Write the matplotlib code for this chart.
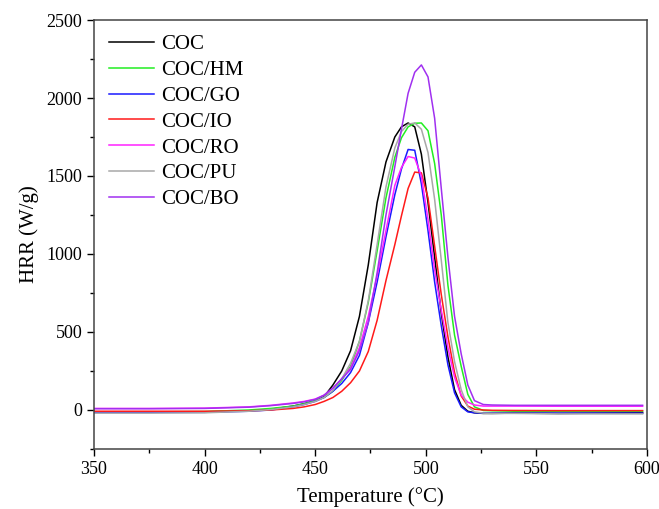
import matplotlib
matplotlib.use('Agg')
import matplotlib.pyplot as plt
from matplotlib.ticker import MultipleLocator

plt.rcParams['font.family'] = ['Liberation Serif', 'DejaVu Serif']

# temperature grid (°C)
temp = [350, 375, 400, 420, 430, 440, 445, 450, 454, 458, 462, 466, 470, 474, 478, 482,
        486, 489, 492, 495, 498, 501, 504, 507, 510, 513, 516, 519, 522, 526, 530, 540,
        560, 580, 598]

# heat release rate (W/g)
coc = [-15, -15, -12, -5, 5, 25, 40, 60, 85, 160, 250, 380, 600, 930, 1330, 1590,
       1750, 1815, 1840, 1815, 1640, 1330, 980, 620, 340, 130, 30, -8, -18, -22, -22, -20,
       -22, -20, -18]
coc_hm = [-12, -12, -10, 0, 10, 25, 40, 60, 80, 120, 190, 280, 440, 690, 1020, 1360,
          1620, 1745, 1815, 1838, 1840, 1790, 1580, 1250, 800, 480, 280, 100, 20, -3, -5, -8,
          -8, -8, -8]
coc_go = [-15, -15, -15, -8, 0, 20, 35, 55, 80, 120, 170, 240, 350, 560, 820, 1110,
          1380, 1545, 1670, 1665, 1450, 1150, 820, 540, 290, 110, 20, -12, -18, -20, -20, -20,
          -20, -20, -20]
coc_io = [-8, -8, -8, -5, 0, 10, 20, 35, 55, 80, 120, 175, 250, 375, 575, 830,
          1060, 1245, 1420, 1525, 1520, 1360, 1050, 740, 470, 240, 90, 25, 5, 0, -2, -3,
          -4, -4, -4]
coc_ro = [10, 10, 12, 20, 30, 45, 55, 70, 95, 140, 200, 270, 400, 600, 860, 1150,
          1440, 1555, 1625, 1615, 1500, 1220, 900, 640, 400, 210, 95, 50, 32, 25, 25, 25,
          24, 24, 24]
coc_pu = [-20, -20, -18, -8, 3, 20, 35, 55, 80, 125, 200, 300, 440, 700, 1060, 1430,
          1680, 1785, 1832, 1840, 1800, 1650, 1350, 960, 560, 310, 130, 20, -12, -20, -22, -22,
          -25, -25, -25]
coc_bo = [8, 8, 10, 18, 28, 42, 52, 68, 95, 140, 200, 260, 380, 560, 880, 1250,
          1560, 1800, 2030, 2165, 2212, 2135, 1870, 1420, 980, 600, 360, 160, 60, 35, 32, 30,
          30, 30, 30]

labels = ['COC', 'COC/HM', 'COC/GO', 'COC/IO', 'COC/RO', 'COC/PU', 'COC/BO']
colors = ['#000000', '#22ee22', '#1a1aff', '#ff1a1a', '#ff22ff', '#a8a8a8', '#a030f0']
series = [coc, coc_hm, coc_go, coc_io, coc_ro, coc_pu, coc_bo]

fig = plt.figure(figsize=(6.59, 5.09), dpi=100)
ax = fig.add_axes([0.1426, 0.1179, 0.8392, 0.8428])

for y, lab, c in zip(series, labels, colors):
    ax.plot(temp, y, color=c, lw=1.1, label=lab)

ax.set_xlim(350, 600)
ax.set_ylim(-250, 2500)
ax.xaxis.set_major_locator(MultipleLocator(50))
ax.xaxis.set_minor_locator(MultipleLocator(25))
ax.yaxis.set_major_locator(MultipleLocator(500))
ax.yaxis.set_minor_locator(MultipleLocator(250))
ax.tick_params(which='major', direction='out', length=5, width=1, labelsize=13)
ax.tick_params(which='minor', direction='out', length=3, width=1)
for s in ax.spines.values():
    s.set_color('#444444')
    s.set_linewidth(1.1)

ax.set_xlabel('Temperature (°C)', fontsize=15, labelpad=7)
ax.set_ylabel('HRR (W/g)', fontsize=15, labelpad=5)

ax.legend(loc='upper left', frameon=False, fontsize=15, handlelength=2.2,
          handletextpad=0.3, labelspacing=0.3, borderaxespad=0.3,
          bbox_to_anchor=(0.0, 1.0))

fig.savefig('out.png', dpi=100)
